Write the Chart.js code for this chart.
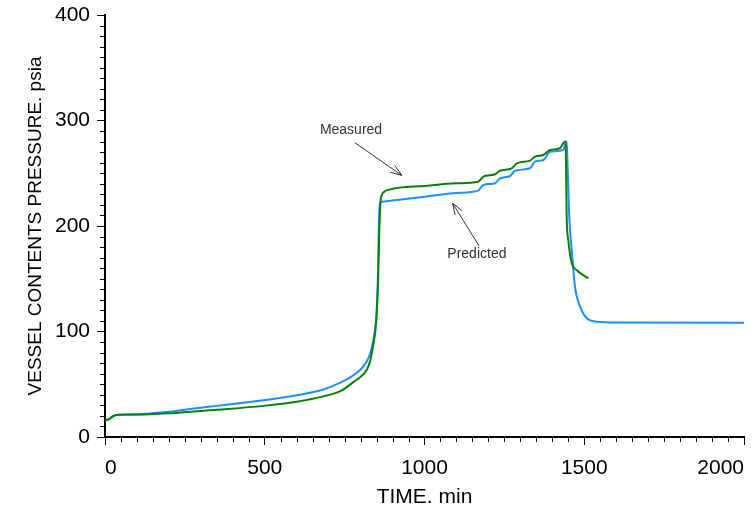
<!DOCTYPE html>
<html>
<head>
<meta charset="utf-8">
<script src="https://cdn.jsdelivr.net/npm/chart.js@4.4.0/dist/chart.umd.min.js"></script>
<style>
  html, body { margin: 0; padding: 0; background: #fff; }
  #wrap { width: 756px; height: 511px; }
</style>
</head>
<body>
<div id="wrap"><canvas id="chart" width="756" height="511"></canvas></div>
<script>
// measured (green) curve
const measuredTime = [0, 15, 26, 42, 100, 141, 200, 245, 350, 495, 600, 683, 740, 777, 800, 819, 830, 840, 846, 850, 855, 859, 862, 866, 872, 890, 1000, 1100, 1168, 1184, 1221, 1236, 1273, 1289, 1330, 1346, 1372, 1393, 1424, 1434, 1442, 1443, 1445, 1450, 1461, 1476, 1513];
const measuredPressure = [15.5, 17.5, 19.9, 21.1, 21.3, 21.5, 22.4, 23.4, 25.8, 29.5, 33.5, 38.5, 44, 52, 57, 63.5, 72, 88, 100, 115, 150, 200, 222, 229, 232, 234.5, 238, 240.5, 242, 246.7, 249, 252.4, 254.7, 259.4, 262, 265.7, 267.3, 272, 273.7, 278.4, 280, 256, 208.8, 186.7, 164.6, 158.3, 150.4];

// predicted (blue) curve
const predictedTime = [0, 15, 26, 42, 100, 141, 200, 266, 350, 495, 600, 683, 740, 770, 800, 820, 832, 840, 846, 850, 854, 857, 859, 862, 866, 900, 1000, 1100, 1168, 1184, 1221, 1236, 1268, 1283, 1330, 1346, 1372, 1393, 1434, 1440, 1445, 1448, 1453, 1461, 1471, 1487, 1508, 1539, 1600, 2000];
const predictedPressure = [15.5, 17.5, 19.9, 21.1, 21.4, 22.3, 23.9, 26.5, 29.5, 34.8, 39.5, 45, 52, 57, 64, 72, 81, 92, 104, 117, 150, 200, 216, 222.5, 223, 224.2, 227.7, 231.3, 233.5, 238.9, 240.5, 245.2, 247.4, 252.4, 254.7, 261, 262.6, 270.4, 272, 276.8, 280, 256, 208.8, 177, 142.5, 123.5, 112.5, 109.3, 108.5, 108.4];

const xLabels = [0, 500, 1000, 1500, 2000];
const yLabels = [0, 100, 200, 300, 400];

function toPoints(xs, ys) {
  return xs.map(function (t, i) { return { x: t, y: ys[i] }; });
}

// text + arrow notes, in data units
const notes = [
  { text: "Measured", x: 770, y: 291, from: [782, 279], to: [929, 248] },
  { text: "Predicted", x: 1164, y: 173, from: [1171, 181], to: [1088, 221.5] }
];

const notesPlugin = {
  id: "notes",
  afterDatasetsDraw(chart) {
    var ctx = chart.ctx;
    var xs = chart.scales.x, ys = chart.scales.y;
    ctx.save();
    ctx.font = "14px 'Liberation Sans', Arial, sans-serif";
    ctx.fillStyle = "#333";
    ctx.textAlign = "center";
    ctx.textBaseline = "middle";
    ctx.strokeStyle = "#333";
    ctx.lineWidth = 1;
    notes.forEach(function (n) {
      ctx.fillText(n.text, xs.getPixelForValue(n.x), ys.getPixelForValue(n.y));
      var x1 = xs.getPixelForValue(n.from[0]), y1 = ys.getPixelForValue(n.from[1]);
      var x2 = xs.getPixelForValue(n.to[0]), y2 = ys.getPixelForValue(n.to[1]);
      var a = Math.atan2(y2 - y1, x2 - x1);
      ctx.beginPath();
      ctx.moveTo(x1, y1);
      ctx.lineTo(x2, y2);
      ctx.moveTo(x2 - 12 * Math.cos(a - 0.35), y2 - 12 * Math.sin(a - 0.35));
      ctx.lineTo(x2, y2);
      ctx.lineTo(x2 - 12 * Math.cos(a + 0.35), y2 - 12 * Math.sin(a + 0.35));
      ctx.stroke();
    });
    ctx.restore();
  }
};

// short minor ticks (major ones come from the grid)
const minorTicks = {
  id: "minorTicks",
  afterDraw(chart) {
    var ctx = chart.ctx;
    var xs = chart.scales.x, ys = chart.scales.y;
    var area = chart.chartArea;
    ctx.save();
    ctx.strokeStyle = "#000";
    ctx.lineWidth = 1;
    ctx.beginPath();
    xs.ticks.forEach(function (t) {
      if (t.value % 500 !== 0) {
        var px = Math.round(xs.getPixelForValue(t.value)) + 0.5;
        ctx.moveTo(px, area.bottom);
        ctx.lineTo(px, area.bottom + 5);
      }
    });
    ys.ticks.forEach(function (t) {
      if (t.value % 100 !== 0) {
        var py = Math.round(ys.getPixelForValue(t.value)) + 0.5;
        ctx.moveTo(area.left, py);
        ctx.lineTo(area.left - 5, py);
      }
    });
    ctx.stroke();
    ctx.restore();
  }
};

const font = "'Liberation Sans', Arial, sans-serif";

new Chart(document.getElementById("chart"), {
  type: "line",
  data: {
    datasets: [
      {
        label: "Measured",
        data: toPoints(measuredTime, measuredPressure),
        borderColor: "#0a800a",
        borderWidth: 2,
        pointRadius: 0,
        cubicInterpolationMode: "monotone",
        fill: false
      },
      {
        label: "Predicted",
        data: toPoints(predictedTime, predictedPressure),
        borderColor: "#1e8fff",
        borderWidth: 2,
        pointRadius: 0,
        cubicInterpolationMode: "monotone",
        fill: false
      }
    ]
  },
  options: {
    responsive: false,
    animation: false,
    layout: { padding: { left: 0, right: 12, top: 15, bottom: 0 } },
    plugins: { legend: { display: false }, tooltip: { enabled: false } },
    scales: {
      x: {
        type: "linear",
        min: 0,
        max: 2000,
        border: { display: true, color: "#000", width: 2 },
        grid: {
          drawOnChartArea: false,
          drawTicks: true,
          tickLength: 8,
          tickColor: function (c) { return c.tick && c.tick.value % 500 === 0 ? "#000" : "rgba(0,0,0,0)"; }
        },
        ticks: {
          stepSize: 50,
          autoSkip: false,
          maxRotation: 0,
          align: "inner",
          padding: 11,
          color: "#000",
          font: { family: font, size: 21 },
          callback: function (v) { return xLabels.indexOf(v) >= 0 ? String(v) : ""; }
        },
        title: {
          display: true,
          text: "TIME. min",
          color: "#000",
          font: { family: font, size: 21 },
          padding: { top: 0, bottom: 1 }
        },
        afterFit: function (s) {
          s.height = 74;
          s.paddingLeft = 0;
          s.paddingRight = 0;
        }
      },
      y: {
        type: "linear",
        min: 0,
        max: 400,
        border: { display: true, color: "#000", width: 2 },
        grid: {
          drawOnChartArea: false,
          drawTicks: true,
          tickLength: 8,
          tickColor: function (c) { return c.tick && c.tick.value % 100 === 0 ? "#000" : "rgba(0,0,0,0)"; }
        },
        ticks: {
          stepSize: 10,
          autoSkip: false,
          padding: 7,
          color: "#000",
          font: { family: font, size: 21 },
          callback: function (v) { return yLabels.indexOf(v) >= 0 ? String(v) : ""; }
        },
        title: {
          display: true,
          text: "VESSEL CONTENTS PRESSURE. psia",
          color: "#000",
          font: { family: font, size: 19 },
          padding: { top: 24, bottom: 0 }
        },
        afterFit: function (s) {
          s.width = 105;
          s.paddingTop = 0;
          s.paddingBottom = 0;
        }
      }
    }
  },
  plugins: [notesPlugin, minorTicks]
});
</script>
</body>
</html>
